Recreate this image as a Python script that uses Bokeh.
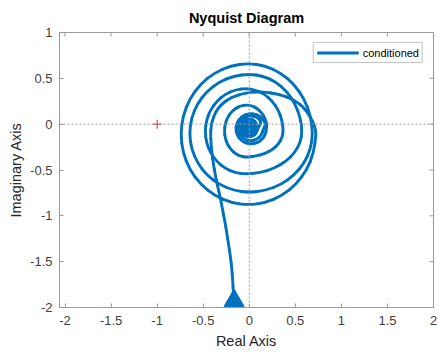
import math
from bokeh.plotting import figure
from bokeh.models import Range1d, FixedTicker, Span, Legend, LegendItem
from bokeh.embed import file_html
from bokeh.resources import INLINE

# ---- Nyquist curve (positive frequencies, in order) ----
tail_re = [-0.165, -0.172, -0.18, -0.19, -0.205, -0.225, -0.245, -0.265, -0.29, -0.315, -0.345,
           -0.37, -0.39, -0.405, -0.415, -0.42]
tail_im = [-2.0, -1.85, -1.7, -1.57, -1.44, -1.31, -1.18, -1.06, -0.93, -0.80, -0.67,
           -0.55, -0.43, -0.32, -0.21, -0.11]
swing_re = [-0.415, -0.40, -0.375, -0.34, -0.29, -0.23, -0.16, -0.08, 0.01, 0.10, 0.19, 0.28,
            0.37, 0.45, 0.52, 0.58, 0.63, 0.67, 0.70, 0.718]
swing_im = [-0.03, 0.04, 0.11, 0.17, 0.225, 0.27, 0.305, 0.33, 0.347, 0.352, 0.347, 0.333,
            0.31, 0.278, 0.24, 0.19, 0.13, 0.065, 0.0, -0.055]
loop_a_re = [0.725, 0.700, 0.627, 0.510, 0.358, 0.180, -0.010, -0.200, -0.378, -0.530, -0.647, -0.720,
             -0.745, -0.720, -0.647, -0.530, -0.378, -0.200, -0.010, 0.171, 0.340, 0.485, 0.596, 0.666]
loop_a_im = [-0.110, -0.310, -0.496, -0.656, -0.779, -0.856, -0.882, -0.856, -0.779, -0.656, -0.496, -0.310,
             -0.110, 0.090, 0.277, 0.437, 0.560, 0.638, 0.664, 0.638, 0.560, 0.437, 0.277, 0.090]
loop_b_re = [0.690, 0.667, 0.598, 0.488, 0.345, 0.179, 0.0, -0.168, -0.325, -0.460, -0.563, -0.628,
             -0.650, -0.628, -0.563, -0.460, -0.325, -0.168, 0.0, 0.149, 0.288, 0.407, 0.498, 0.555]
loop_b_im = [-0.100, -0.267, -0.423, -0.556, -0.659, -0.723, -0.745, -0.723, -0.659, -0.556, -0.423, -0.267,
             -0.100, 0.068, 0.224, 0.358, 0.461, 0.526, 0.548, 0.526, 0.461, 0.358, 0.224, 0.068]
loop_c_re = [0.575, 0.554, 0.493, 0.395, 0.268, 0.119, -0.040, -0.154, -0.260, -0.351, -0.421, -0.465,
             -0.480, -0.465, -0.421, -0.351, -0.260, -0.154, -0.040, 0.066, 0.165, 0.250, 0.315, 0.356]
loop_c_im = [-0.080, -0.200, -0.313, -0.409, -0.483, -0.529, -0.545, -0.529, -0.483, -0.409, -0.313, -0.200,
             -0.080, 0.042, 0.155, 0.252, 0.327, 0.374, 0.390, 0.374, 0.327, 0.252, 0.155, 0.042]
loop_d_re = [0.370, 0.356, 0.316, 0.253, 0.170, 0.074, -0.030, -0.092, -0.150, -0.200, -0.238, -0.262,
             -0.270, -0.262, -0.238, -0.200, -0.150, -0.092, -0.030, 0.030, 0.085, 0.133, 0.169, 0.192]
loop_d_im = [-0.075, -0.149, -0.218, -0.276, -0.322, -0.350, -0.360, -0.350, -0.322, -0.276, -0.218, -0.149,
             -0.075, -0.001, 0.068, 0.126, 0.172, 0.200, 0.210, 0.200, 0.172, 0.126, 0.068, -0.001]
core_re = [0.185, 0.179, 0.163, 0.137, 0.103, 0.063, 0.020, -0.023, -0.063, -0.097, -0.123, -0.139,
           -0.145, -0.139, -0.123, -0.097, -0.063, -0.023, 0.020, 0.063, 0.103, 0.137, 0.163, 0.179,
           0.155, 0.136, 0.085, 0.015, -0.055, -0.106, -0.125, -0.106, -0.055, 0.015, 0.085, 0.136,
           0.095, 0.082, 0.045, -0.005, -0.055, -0.092, -0.105, -0.092, -0.055, -0.005, 0.045, 0.082,
           0.070, 0.060, 0.033, -0.005, -0.043, -0.070, -0.080, -0.070, -0.043, -0.005, 0.033, 0.060,
           0.045, 0.038, 0.020, -0.005, -0.030, -0.048, -0.055, -0.048, -0.030, -0.005, 0.020, 0.038,
           0.020, 0.013, -0.005, -0.023, -0.030, -0.023, -0.005, 0.013, 0.0]
core_im = [-0.050, -0.093, -0.133, -0.167, -0.193, -0.209, -0.215, -0.209, -0.193, -0.167, -0.133, -0.093,
           -0.050, -0.007, 0.033, 0.067, 0.093, 0.109, 0.115, 0.109, 0.093, 0.067, 0.033, -0.007,
           -0.045, -0.115, -0.166, -0.185, -0.166, -0.115, -0.045, 0.025, 0.076, 0.095, 0.076, 0.025,
           -0.040, -0.090, -0.127, -0.140, -0.127, -0.090, -0.040, 0.010, 0.047, 0.060, 0.047, 0.010,
           -0.040, -0.078, -0.105, -0.115, -0.105, -0.078, -0.040, -0.003, 0.025, 0.035, 0.025, -0.003,
           -0.040, -0.065, -0.083, -0.090, -0.083, -0.065, -0.040, -0.015, 0.003, 0.010, 0.003, -0.015,
           -0.040, -0.058, -0.065, -0.058, -0.040, -0.022, -0.015, -0.022, -0.040]

arrow_re = [-0.165]
arrow_im = [-1.925]
crit_re = [-1.0]
crit_im = [0.0]
x_ticks = [-2, -1.5, -1, -0.5, 0, 0.5, 1, 1.5, 2]
x_tick_labels = ["-2", "-1.5", "-1", "-0.5", "0", "0.5", "1", "1.5", "2"]
y_ticks = [-2, -1.5, -1, -0.5, 0, 0.5, 1]
y_tick_labels = ["-2", "-1.5", "-1", "-0.5", "0", "0.5", "1"]
x_lim = (-2.06, 2.0)
y_lim = (-2.0, 1.0)
zero_lines = [0.0]
series_name = "conditioned"

re_vals = tail_re + swing_re + loop_a_re + loop_b_re + loop_c_re + loop_d_re + core_re
im_vals = tail_im + swing_im + loop_a_im + loop_b_im + loop_c_im + loop_d_im + core_im

FONT = "Liberation Sans"
BLUE = "#0072BD"
AX = "#9a9a9a"
LBL = "#404040"

p = figure(width=438, height=353,
           x_range=Range1d(*x_lim), y_range=Range1d(*y_lim),
           output_backend="svg", toolbar_location=None,
           title="Nyquist Diagram", x_axis_label="Real Axis", y_axis_label="Imaginary Axis")
p.min_border_left = 59
p.min_border_right = 5
p.min_border_top = 32
p.min_border_bottom = 46
p.grid.visible = False
p.outline_line_color = AX
p.background_fill_color = "white"
p.border_fill_color = "white"

p.title.text_font = FONT
p.title.text_font_size = "14.5px"
p.title.text_font_style = "bold"
p.title.text_color = "black"
p.title.align = "center"
p.title.standoff = 14

for ax, ticks, labels in ((p.xaxis[0], x_ticks, x_tick_labels), (p.yaxis[0], y_ticks, y_tick_labels)):
    ax.ticker = FixedTicker(ticks=ticks)
    ax.major_label_overrides = {t: l for t, l in zip(ticks, labels)}
    ax.major_label_text_font = FONT
    ax.major_label_text_font_size = "13px"
    ax.major_label_text_color = LBL
    ax.axis_label_text_font = FONT
    ax.axis_label_text_font_size = "14.5px"
    ax.axis_label_text_font_style = "normal"
    ax.axis_label_text_color = "#262626"
    ax.major_tick_in = 4
    ax.major_tick_out = 0
    ax.minor_tick_line_color = None
    ax.axis_line_color = AX
    ax.major_tick_line_color = AX
p.xaxis[0].major_label_standoff = 8
p.xaxis[0].axis_label_standoff = 5
p.yaxis[0].major_label_standoff = 7
p.yaxis[0].axis_label_standoff = 3

# inward ticks on the top and right edges of the box
p.scatter(x_ticks, [y_lim[1]] * len(x_ticks), marker="dash", angle=math.pi / 2, size=8,
          line_color=AX, line_width=1)
p.scatter([x_lim[1]] * len(y_ticks), y_ticks, marker="dash", size=8, line_color=AX, line_width=1)

for z in zero_lines:
    p.add_layout(Span(location=z, dimension="width", line_color="#9a9a9a", line_dash="2 2", line_width=1))
    p.add_layout(Span(location=z, dimension="height", line_color="#9a9a9a", line_dash="2 2", line_width=1))

p.scatter(crit_re, crit_im, marker="cross", size=9, line_color="#e02020", line_width=1)

# the curve: a smooth quadratic path that uses the read points as control points
n = len(re_vals)
mid_re = [(re_vals[i] + re_vals[i + 1]) / 2 for i in range(n - 1)]
mid_im = [(im_vals[i] + im_vals[i + 1]) / 2 for i in range(n - 1)]
p.quadratic(x0=[re_vals[0]] + mid_re[1:n - 2], y0=[im_vals[0]] + mid_im[1:n - 2],
            x1=mid_re[1:n - 2] + [re_vals[-1]], y1=mid_im[1:n - 2] + [im_vals[-1]],
            cx=re_vals[1:n - 1], cy=im_vals[1:n - 1],
            line_color=BLUE, line_width=2.9, line_cap="round")
# the same points as a polyline, kept for the legend entry only
curve = p.line(re_vals, im_vals, line_color=BLUE, line_width=2.9)
curve.visible = False
p.scatter(arrow_re, arrow_im, marker="triangle", size=20, fill_color=BLUE, line_color=BLUE)

legend = Legend(items=[LegendItem(label=series_name, renderers=[curve])], location="top_right")
legend.label_text_font = FONT
legend.label_text_font_size = "11px"
legend.label_text_color = "black"
legend.border_line_color = "#8c8c8c"
legend.border_line_width = 1
legend.background_fill_color = "white"
legend.inactive_fill_alpha = 0.0
legend.glyph_width = 42
legend.glyph_height = 13
legend.label_height = 13
legend.padding = 3
legend.spacing = 0
legend.margin = 10
legend.label_standoff = 4
p.add_layout(legend)

open("out.html", "w").write(file_html(p, INLINE))
